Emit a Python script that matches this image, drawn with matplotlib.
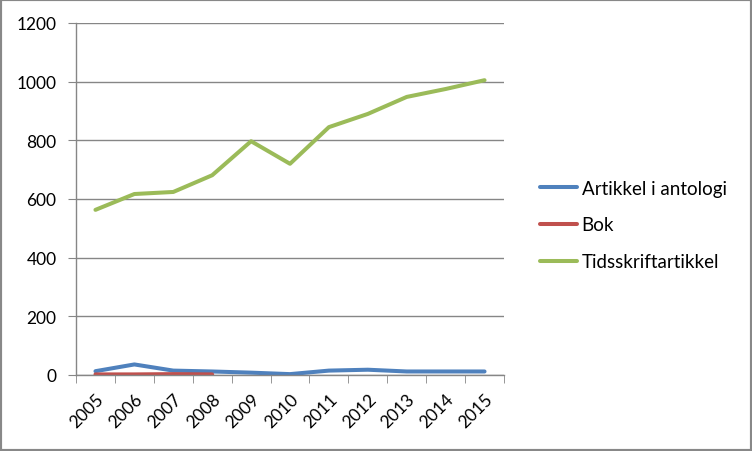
import matplotlib
matplotlib.use("Agg")
import matplotlib.pyplot as plt
from matplotlib.patches import Rectangle
import numpy as np

years = ["2005", "2006", "2007", "2008", "2009", "2010", "2011", "2012", "2013", "2014", "2015"]
antologi = [13, 36, 15, 12, 8, 3, 15, 18, 12, 12, 12]
bok = [2, 2, 3, 2]
tidsskrift = [563, 617, 624, 681, 797, 720, 845, 890, 948, 975, 1005]
yticks = [0, 200, 400, 600, 800, 1000, 1200]

plt.rcParams['font.family'] = ['Lato', 'DejaVu Sans']

fig = plt.figure(figsize=(7.52, 4.52), dpi=100)
ax = fig.add_axes([76/752, 1-376/452, (504-76)/752, (376-24)/452])

grid_c = '#868686'
x = np.arange(len(years))
l1, = ax.plot(x, antologi, color='#4F81BD', lw=2.9, solid_capstyle='round', label='Artikkel i antologi')
l2, = ax.plot(x[:len(bok)], bok, color='#C0504D', lw=2.9, solid_capstyle='round', label='Bok')
l3, = ax.plot(x, tidsskrift, color='#9BBB59', lw=2.9, solid_capstyle='round', label='Tidsskriftartikkel')

ax.set_xlim(-0.5, len(years) - 0.5)
ax.set_ylim(0, 1200)
ax.set_yticks(yticks)
ax.set_yticklabels([str(v) for v in yticks], fontsize=12.5)
ax.yaxis.grid(True, color=grid_c, lw=1)
ax.set_axisbelow(True)

ax.set_xticks(x)
ax.set_xticklabels(years, rotation=45, ha='right', va='top', rotation_mode='anchor', fontsize=12.5)
ax.set_xticks(np.arange(-0.5, len(years)), minor=True)
ax.tick_params(axis='x', which='major', length=0, pad=11)
ax.tick_params(axis='x', which='minor', length=6, color=grid_c, direction='out')
ax.tick_params(axis='y', length=6, color=grid_c, direction='out', pad=8)

for s in ['top', 'right']:
    ax.spines[s].set_visible(False)
for s in ['left', 'bottom']:
    ax.spines[s].set_color(grid_c)
    ax.spines[s].set_linewidth(1)

leg = fig.legend(handles=[l1, l2, l3], loc='center left', bbox_to_anchor=(523/752, 1-226/452),
                 frameon=False, fontsize=13.5, handlelength=2.0, handletextpad=0.22, labelspacing=1.05)

fig.patches.append(Rectangle((0, 0), 1, 1, transform=fig.transFigure, fill=False,
                             edgecolor='#888888', lw=3))

fig.savefig('out.png', dpi=100)
